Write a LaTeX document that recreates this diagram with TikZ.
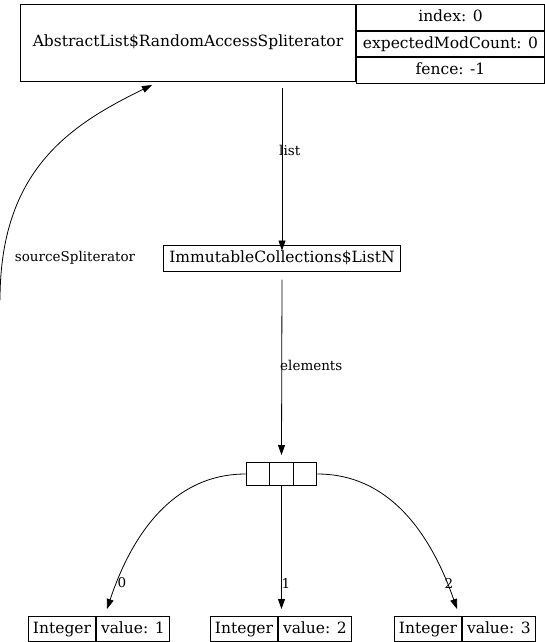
\documentclass[tikz,border=0pt]{standalone}
\usepackage{fontspec}
\setmainfont{DejaVu Serif}
\usetikzlibrary{positioning,arrows.meta}

\begin{document}
\begin{tikzpicture}[ x=1pt, y=-1pt,
	box/.style={draw, line width=1pt, inner sep=0pt, text height=11.5pt, text depth=3.5pt, font=\fontsize{15.5}{18}\selectfont},
	lbl/.style={inner sep=0pt, font=\fontsize{13.5}{16}\selectfont},
	ref/.style={-{Triangle[length=10pt,width=7pt]}, line width=0.8pt} ]
	\useasboundingbox (0,0) rectangle (545,642);
	\clip (0,0) rectangle (545,642);
	\node[box, minimum width=335, minimum height=77, anchor=north west] (spliter) at (20,4) {AbstractList\$RandomAccessSpliterator};
	\node[box, minimum width=188, minimum height=25.67, anchor=north west] (index) at (spliter.north east) {index: 0};
	\node[box, minimum width=188, minimum height=25.67, below=0pt of index] (modcount) {expectedModCount: 0};
	\node[box, minimum width=188, minimum height=25.67, below=0pt of modcount] (fence) {fence: -1};
	\node[box, minimum height=26, inner xsep=6pt] (listn) at (282,258) {ImmutableCollections\$ListN};
	\node[lbl] (nsrc) at (75,258) {sourceSpliterator};
	\foreach \i/\x in {0/258,1/281.5,2/305}
		\node[box, minimum width=23.7, minimum height=23] (cell\i) at (\x,474) {};
	\foreach \k/\x in {1/96,2/278,3/462} {
		\node[box, minimum height=25, inner xsep=4.5pt, anchor=east] (int\k) at (\x,629) {Integer};
		\node[box, minimum height=25, inner xsep=4.5pt, right=0pt of int\k] (val\k) {value: \k};
	}
	\coordinate (src) at (0,300);
	\coordinate (tip0) at (107,609);
	\coordinate (tip2) at (457,609);
	\draw[ref] (src) .. controls (0,170) and (70,125) .. (152,85);
	\draw[ref] (listn.north |- spliter.south) ++(0,6) -- ([yshift=-6pt]listn.north);
	\draw[ref] ([yshift=-8pt]listn.south) -- ([yshift=7pt]cell1.north);
	\draw[ref] (cell0.west) .. controls (170,474) and (130,540) .. (tip0);
	\draw[ref] (cell1.south) -- ([yshift=7pt]int2.north -| cell1);
	\draw[ref] (cell2.east) .. controls (393,474) and (433,540) .. (tip2);
	\node[lbl, anchor=west] (nlist) at (279,150) {list};
	\node[lbl, anchor=west] (nelem) at (280,365) {elements};
	\node[lbl] (n0) at (122,583) {0};
	\node[lbl] (n1) at (286,583) {1};
	\node[lbl] (n2) at (449,583) {2};
\end{tikzpicture}
\end{document}
